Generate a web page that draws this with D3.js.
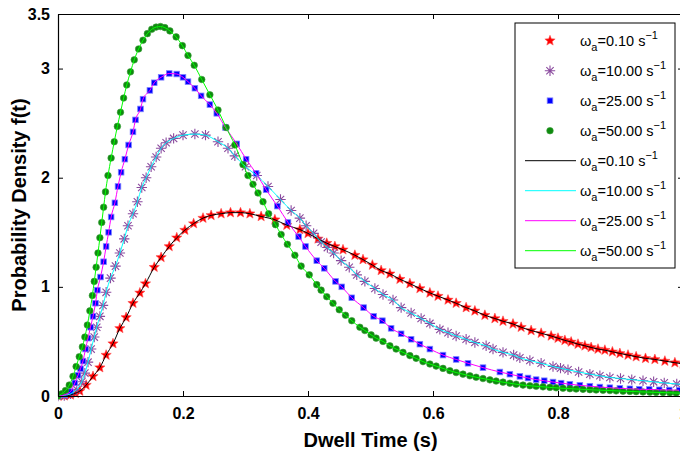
<!DOCTYPE html>
<html>
<head>
<meta charset="utf-8">
<script src="https://cdn.jsdelivr.net/npm/d3@7"></script>
<style>
  html, body { margin: 0; padding: 0; background: #fff; }
  svg { display: block; }
  text { font-family: Arial, "Liberation Sans", Helvetica, sans-serif; }
</style>
</head>
<body>
<svg id="chart" width="680" height="457"></svg>
<script>
// ---------------- DATA ----------------
const xTicks = [0, 0.2, 0.4, 0.6, 0.8, 1];
const xTickLabels = ["0", "0.2", "0.4", "0.6", "0.8", "1"];
const yTicks = [0, 1, 2, 3, 3.5];
const yTickLabels = ["0", "1", "2", "3", "3.5"];
const rates = ["0.10", "10.00", "25.00", "50.00"];

// simulated points + model curves, [t, f(t)]
const redPoints = [
  [0,0],[0.01,0.002],[0.02,0.01],[0.028,0.025],[0.035,0.045],[0.045,0.10],[0.056,0.18],[0.067,0.26],
  [0.077,0.375],[0.088,0.48],[0.099,0.62],[0.109,0.72],[0.12,0.85],[0.131,0.945],[0.14,1.03],[0.154,1.18],
  [0.165,1.27],[0.178,1.37],[0.19,1.45],[0.203,1.52],[0.217,1.58],[0.232,1.63],[0.245,1.655],[0.261,1.67],
  [0.276,1.68],[0.292,1.68],[0.307,1.67],[0.325,1.645],[0.347,1.615],[0.366,1.565],[0.387,1.525],[0.40,1.49],
  [0.416,1.44],[0.43,1.40],[0.443,1.37],[0.456,1.34],[0.475,1.29],[0.488,1.25],[0.503,1.20],[0.517,1.15],
  [0.531,1.12],[0.547,1.07],[0.563,1.03],[0.579,0.985],[0.595,0.945],[0.608,0.915],[0.624,0.88],[0.637,0.85],
  [0.653,0.81],[0.667,0.78],[0.683,0.74],[0.699,0.71],[0.712,0.685],[0.728,0.66],[0.741,0.63],[0.757,0.60],
  [0.773,0.575],[0.789,0.55],[0.80,0.53],[0.811,0.51],[0.821,0.495],[0.832,0.475],[0.843,0.46],[0.853,0.445],
  [0.864,0.43],[0.875,0.42],[0.887,0.405],[0.899,0.39],[0.912,0.375],[0.925,0.36],[0.94,0.345],[0.955,0.335],
  [0.971,0.32],[0.987,0.305],[1.0,0.295]
];
const purplePoints = [
  [0,0],[0.01,0.005],[0.02,0.02],[0.03,0.06],[0.038,0.13],[0.043,0.21],[0.048,0.31],[0.053,0.43],
  [0.058,0.54],[0.062,0.63],[0.067,0.73],[0.072,0.83],[0.077,0.95],[0.084,1.08],[0.092,1.19],[0.099,1.31],
  [0.106,1.44],[0.112,1.56],[0.12,1.67],[0.127,1.78],[0.134,1.91],[0.141,2.0],[0.149,2.10],[0.157,2.19],
  [0.165,2.27],[0.173,2.32],[0.185,2.36],[0.20,2.39],[0.219,2.40],[0.236,2.39],[0.256,2.33],[0.272,2.27],
  [0.283,2.20],[0.30,2.10],[0.318,2.02],[0.336,1.92],[0.356,1.80],[0.373,1.70],[0.387,1.63],[0.397,1.56],
  [0.409,1.49],[0.421,1.41],[0.431,1.36],[0.441,1.31],[0.453,1.24],[0.466,1.18],[0.478,1.11],[0.491,1.05],
  [0.507,0.985],[0.52,0.93],[0.536,0.88],[0.549,0.81],[0.565,0.76],[0.581,0.71],[0.595,0.665],[0.611,0.61],
  [0.624,0.58],[0.637,0.55],[0.653,0.52],[0.667,0.49],[0.685,0.46],[0.696,0.43],[0.712,0.40],[0.729,0.375],
  [0.739,0.35],[0.755,0.325],[0.773,0.30],[0.792,0.27],[0.804,0.255],[0.816,0.24],[0.833,0.22],[0.851,0.20],
  [0.867,0.185],[0.883,0.17],[0.90,0.16],[0.918,0.15],[0.936,0.14],[0.953,0.13],[0.97,0.12],[0.99,0.11],[1.0,0.105]
];
const bluePoints = [
  [0,0],[0.01,0.01],[0.02,0.04],[0.027,0.12],[0.032,0.19],[0.036,0.25],[0.04,0.32],[0.044,0.43],
  [0.048,0.53],[0.052,0.63],[0.056,0.73],[0.06,0.85],[0.063,0.97],[0.068,1.09],[0.073,1.23],[0.077,1.37],
  [0.081,1.50],[0.085,1.64],[0.091,1.77],[0.096,1.92],[0.101,2.05],[0.107,2.17],[0.113,2.30],[0.12,2.42],
  [0.124,2.53],[0.132,2.63],[0.136,2.72],[0.147,2.80],[0.154,2.87],[0.165,2.92],[0.178,2.955],[0.19,2.95],
  [0.20,2.92],[0.208,2.88],[0.219,2.82],[0.229,2.75],[0.243,2.67],[0.254,2.59],[0.268,2.46],[0.286,2.31],
  [0.301,2.17],[0.317,2.04],[0.333,1.89],[0.351,1.74],[0.368,1.59],[0.385,1.46],[0.396,1.37],[0.414,1.24],
  [0.426,1.17],[0.444,1.05],[0.454,1.0],[0.47,0.90],[0.489,0.81],[0.505,0.73],[0.519,0.69],[0.533,0.62],
  [0.549,0.57],[0.565,0.52],[0.579,0.475],[0.595,0.43],[0.616,0.375],[0.637,0.335],[0.656,0.30],[0.68,0.26],
  [0.707,0.22],[0.723,0.20],[0.739,0.18],[0.752,0.165],[0.765,0.15],[0.778,0.14],[0.792,0.128],[0.805,0.118],
  [0.819,0.108],[0.835,0.098],[0.851,0.09],[0.867,0.082],[0.883,0.076],[0.899,0.07],[0.915,0.066],[0.93,0.062],
  [0.946,0.06],[0.962,0.057],[0.978,0.055],[0.994,0.053]
];
const greenPoints = [
  [0,0],[0.006,0.02],[0.012,0.05],[0.018,0.10],[0.024,0.18],[0.029,0.27],[0.034,0.36],[0.039,0.45],
  [0.043,0.54],[0.047,0.65],[0.051,0.78],[0.055,0.92],[0.058,1.05],[0.061,1.18],[0.064,1.31],[0.067,1.45],
  [0.07,1.59],[0.073,1.73],[0.076,1.87],[0.08,2.02],[0.085,2.18],[0.09,2.33],[0.095,2.47],[0.10,2.60],
  [0.105,2.73],[0.11,2.85],[0.116,2.97],[0.122,3.08],[0.129,3.18],[0.136,3.26],[0.143,3.32],[0.15,3.36],
  [0.157,3.38],[0.164,3.385],[0.171,3.375],[0.179,3.345],[0.189,3.29],[0.199,3.21],[0.208,3.12],[0.218,3.03],
  [0.23,2.90],[0.243,2.76],[0.256,2.62],[0.269,2.46],[0.283,2.30],[0.296,2.12],[0.304,2.02],[0.312,1.94],
  [0.32,1.86],[0.328,1.78],[0.337,1.67],[0.348,1.57],[0.357,1.48],[0.367,1.39],[0.379,1.29],[0.389,1.19],
  [0.402,1.11],[0.414,1.02],[0.421,0.97],[0.43,0.91],[0.44,0.85],[0.45,0.79],[0.46,0.74],[0.47,0.69],
  [0.483,0.63],[0.491,0.60],[0.501,0.56],[0.509,0.53],[0.52,0.50],[0.531,0.46],[0.541,0.43],[0.552,0.40],
  [0.563,0.37],[0.573,0.345],[0.584,0.315],[0.595,0.293],[0.605,0.274],[0.616,0.253],[0.627,0.232],[0.637,0.215],
  [0.648,0.20],[0.659,0.185],[0.669,0.172],[0.68,0.16],[0.691,0.148],[0.701,0.137],[0.712,0.127],[0.723,0.117],
  [0.733,0.108],[0.744,0.10],[0.755,0.094],[0.765,0.089],[0.776,0.084],[0.787,0.079],[0.797,0.075],[0.808,0.071],
  [0.819,0.067],[0.829,0.064],[0.84,0.061],[0.851,0.058],[0.861,0.055],[0.872,0.052],[0.883,0.05],[0.893,0.047],
  [0.904,0.044],[0.915,0.042],[0.925,0.04],[0.936,0.037],[0.947,0.035],[0.957,0.033],[0.968,0.031],[0.979,0.029],
  [0.989,0.027],[1.0,0.025]
];

// ---------------- STYLE / LAYOUT ----------------
const svg = d3.select("#chart");
const M = { left: 58, right: 683, top: 14, bottom: 396 };
const x = d3.scaleLinear().domain([0, 1]).range([M.left, M.right]);
const y = d3.scaleLinear().domain([0, 3.5]).range([M.bottom, M.top]);

const series = [
  { pts: redPoints,    marker: "star",     mcolor: "#ff0000", lcolor: "#000000" },
  { pts: purplePoints, marker: "asterisk", mcolor: "#8a4a9e", lcolor: "#00ffff" },
  { pts: bluePoints,   marker: "square",   mcolor: "#0000ff", lcolor: "#ff00ff" },
  { pts: greenPoints,  marker: "circle",   mcolor: "#0f8a0f", lcolor: "#00ff00" }
];

function starPath(r1, r2) {
  const p = [];
  for (let i = 0; i < 10; i++) {
    const a = -Math.PI / 2 + i * Math.PI / 5;
    const r = i % 2 === 0 ? r1 : r2;
    p.push([r * Math.cos(a), r * Math.sin(a)]);
  }
  return "M" + p.map(d => d[0].toFixed(2) + "," + d[1].toFixed(2)).join("L") + "Z";
}
const STAR = starPath(5.4, 2.3);

function drawMarker(g, type, color, cx, cy) {
  const m = g.append("g").attr("transform", `translate(${cx},${cy})`);
  if (type === "star") {
    m.append("path").attr("d", STAR).attr("fill", color).attr("stroke", "#ff5050").attr("stroke-width", 0.6);
  } else if (type === "asterisk") {
    const r = 5.2, d = r * 0.7071;
    const p = `M${-r},0L${r},0M0,${-r}L0,${r}M${-d},${-d}L${d},${d}M${-d},${d}L${d},${-d}`;
    m.append("path").attr("d", p).attr("stroke", color).attr("stroke-width", 1.1).attr("fill", "none");
  } else if (type === "square") {
    m.append("rect").attr("x", -2.8).attr("y", -2.8).attr("width", 5.6).attr("height", 5.6)
      .attr("fill", color).attr("stroke", "#8080ff").attr("stroke-width", 0.8);
  } else if (type === "circle") {
    m.append("circle").attr("r", 3.3).attr("fill", color).attr("stroke", "#3aa03a").attr("stroke-width", 0.6);
  }
}

// clip to plot area
svg.append("defs").append("clipPath").attr("id", "clip")
  .append("rect").attr("x", M.left).attr("y", M.top - 6)
  .attr("width", M.right - M.left + 6).attr("height", M.bottom - M.top + 12);

const plot = svg.append("g").attr("clip-path", "url(#clip)");

// markers
series.forEach(s => {
  const g = plot.append("g");
  s.pts.forEach(d => drawMarker(g, s.marker, s.mcolor, x(d[0]), y(d[1])));
});
// lines on top
const line = d3.line().x(d => x(d[0])).y(d => y(d[1])).curve(d3.curveMonotoneX);
series.forEach(s => {
  plot.append("path").datum(s.pts).attr("d", line)
    .attr("fill", "none").attr("stroke", s.lcolor).attr("stroke-width", 1);
});

// axes (MATLAB style: box, inward ticks on all sides)
const fontTick = "bold 16px Arial, 'Liberation Sans', sans-serif";
const xAxis = d3.axisBottom(x).tickValues(xTicks).tickFormat((d, i) => xTickLabels[i])
  .tickSizeInner(-5).tickSizeOuter(0).tickPadding(12);
const yAxis = d3.axisLeft(y).tickValues(yTicks).tickFormat((d, i) => yTickLabels[i])
  .tickSizeInner(-5).tickSizeOuter(0).tickPadding(8);
const xTop = d3.axisTop(x).tickValues(xTicks).tickFormat("").tickSizeInner(-5).tickSizeOuter(0);
const yRight = d3.axisRight(y).tickValues(yTicks).tickFormat("").tickSizeInner(-5).tickSizeOuter(0);

function styleAxis(g) {
  g.selectAll("path.domain").attr("stroke", "#000").attr("stroke-width", 1.2);
  g.selectAll(".tick line").attr("stroke", "#000").attr("stroke-width", 1);
  g.selectAll(".tick text").style("font", fontTick).attr("fill", "#000");
}
svg.append("g").attr("transform", `translate(0,${M.bottom})`).call(xAxis).call(styleAxis);
svg.append("g").attr("transform", `translate(${M.left},0)`).call(yAxis).call(styleAxis);
svg.append("g").attr("transform", `translate(0,${M.top})`).call(xTop).call(styleAxis);
svg.append("g").attr("transform", `translate(${M.right},0)`).call(yRight).call(styleAxis);

// axis titles
svg.append("text").attr("x", (M.left + M.right) / 2).attr("y", 447)
  .attr("text-anchor", "middle").style("font", "bold 20px Arial, 'Liberation Sans', sans-serif")
  .text("Dwell Time (s)");
svg.append("text").attr("transform", `translate(26,${(M.top + M.bottom) / 2}) rotate(-90)`)
  .attr("text-anchor", "middle").style("font", "bold 20px Arial, 'Liberation Sans', sans-serif")
  .text("Probability Density f(t)");

// legend
const L = { x: 515, y: 23, w: 160, h: 245, row0: 40.7, step: 30 };
const leg = svg.append("g");
leg.append("rect").attr("x", L.x).attr("y", L.y).attr("width", L.w).attr("height", L.h)
  .attr("fill", "#fff").attr("stroke", "#000").attr("stroke-width", 1);

function legendLabel(yy, rate) {
  const t = leg.append("text").attr("x", 580).attr("y", yy + 5.5)
    .style("font", "14.5px Arial, 'Liberation Sans', sans-serif").attr("fill", "#000");
  t.append("tspan").text("ω");
  t.append("tspan").attr("dy", 5).style("font-size", "11px").text("a");
  t.append("tspan").attr("dy", -5).text("=" + rate + " s");
  t.append("tspan").attr("dy", -7).style("font-size", "11px").text("−1");
}
series.forEach((s, i) => {
  const yy = L.row0 + i * L.step;
  drawMarker(leg, s.marker, s.mcolor, 550, yy);
  legendLabel(yy, rates[i]);
});
series.forEach((s, i) => {
  const yy = L.row0 + (i + 4) * L.step;
  leg.append("line").attr("x1", 525).attr("x2", 576).attr("y1", yy).attr("y2", yy)
    .attr("stroke", s.lcolor).attr("stroke-width", 1);
  legendLabel(yy, rates[i]);
});
</script>
</body>
</html>
